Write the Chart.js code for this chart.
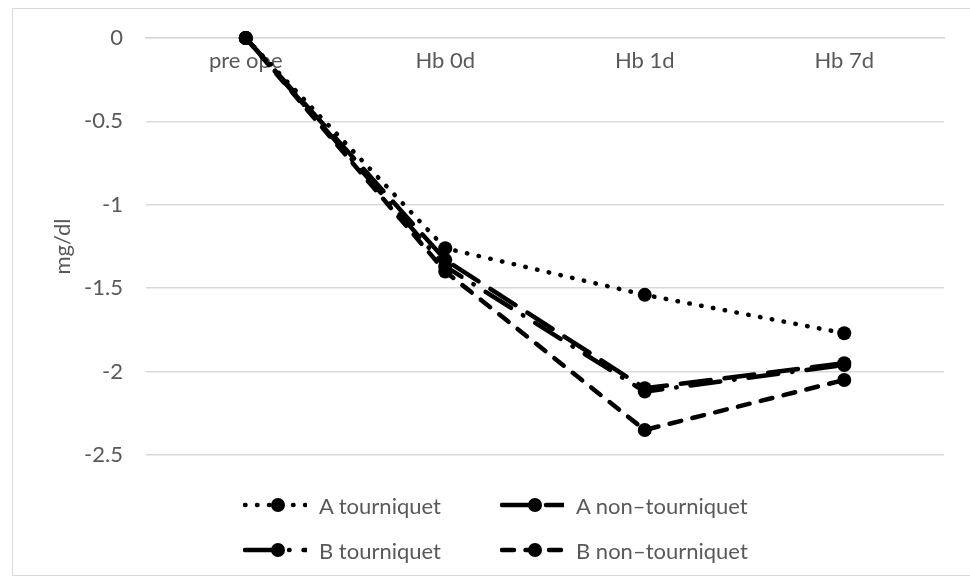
<!DOCTYPE html>
<html>
<head>
<meta charset="utf-8">
<script src="https://cdn.jsdelivr.net/npm/chart.js@4.4.1/dist/chart.umd.min.js"></script>
<style>
  html, body { margin: 0; padding: 0; background: #fff; }
  #wrap { position: relative; width: 970px; height: 583px; overflow: hidden; font-family: Lato, sans-serif; }
  #frame { position: absolute; left: 12px; top: 8px; width: 962px; height: 568px; border: 1px solid #d9d9d9; box-sizing: border-box; }
  #chart-box { position: absolute; left: 0; top: 0; width: 970px; height: 583px; }
  #legend { position: absolute; left: 243px; top: 490px; display: grid; grid-template-columns: 257px 257px; row-gap: 15px; }
  .legend-item { display: flex; align-items: center; height: 30px; color: #595959; font-size: 22px; white-space: nowrap; }
  .legend-item canvas { margin-right: 12px; }
</style>
</head>
<body>
<div id="wrap">
  <div id="frame"></div>
  <div id="chart-box"><canvas id="hb-chart"></canvas></div>
  <div id="legend"></div>
</div>
<script>
// values
const categories = ['pre ope', 'Hb 0d', 'Hb 1d', 'Hb 7d'];
const seriesLabels = ['A tourniquet', 'A non\u2013tourniquet', 'B tourniquet', 'B non\u2013tourniquet'];
const aTourniquet = [0, -1.26, -1.54, -1.77];
const aNonTourniquet = [0, -1.33, -2.10, -1.95];
const bTourniquet = [0, -1.37, -2.12, -1.96];
const bNonTourniquet = [0, -1.40, -2.35, -2.05];
const yMin = -2.5;
const yMax = 0;
const yStep = 0.5;

const TEXT = '#595959';
const GRID = '#d9d9d9';
const FONT = { family: 'Lato, sans-serif', size: 22 };

// line styles, one per series
const lineStyles = [
  { dash: [0.5, 11.5], cap: 'round' },       // round dots
  { dash: [30, 14], cap: 'round' },          // long dash
  { dash: [30, 14, 0.5, 14], cap: 'round' }, // long dash dot
  { dash: [12, 11.5], cap: 'round' }         // dash
];
const seriesData = [aTourniquet, aNonTourniquet, bTourniquet, bNonTourniquet];

const datasets = seriesData.map((data, i) => ({
  label: seriesLabels[i],
  data,
  clip: false,
  borderColor: '#000',
  borderWidth: 4.5,
  borderDash: lineStyles[i].dash,
  borderCapStyle: lineStyles[i].cap,
  tension: 0,
  pointRadius: 7,
  pointHoverRadius: 7,
  pointBackgroundColor: '#000',
  pointBorderWidth: 0
}));

const chart = new Chart(document.getElementById('hb-chart'), {
  type: 'line',
  data: { labels: categories, datasets },
  options: {
    responsive: true,
    maintainAspectRatio: false,
    animation: false,
    layout: { padding: { left: 46, top: 38, right: 26, bottom: 128 } },
    plugins: {
      legend: { display: false },
      tooltip: { enabled: false }
    },
    scales: {
      x: {
        position: { y: 0 },
        offset: true,
        grid: { display: false, drawTicks: false },
        border: { display: true, color: GRID, width: 1.5 },
        ticks: { color: TEXT, font: FONT, padding: 10, maxRotation: 0 }
      },
      y: {
        min: yMin,
        max: yMax,
        ticks: {
          stepSize: yStep,
          color: TEXT,
          font: FONT,
          padding: 23,
          callback: v => String(v)
        },
        grid: { color: GRID, lineWidth: 1.5, drawTicks: false },
        border: { display: false },
        title: { display: true, text: 'mg/dl', color: TEXT, font: FONT, padding: { top: 4, bottom: 0 } },
        afterFit: scale => { scale.width = 100; }
      }
    }
  }
});

// legend: line sample with marker, then the label
function buildLegend() {
  const box = document.getElementById('legend');
  chart.data.datasets.forEach((ds) => {
    const item = document.createElement('div');
    item.className = 'legend-item';
    const c = document.createElement('canvas');
    c.width = 64;
    c.height = 20;
    const ctx = c.getContext('2d');
    ctx.strokeStyle = '#000';
    ctx.lineWidth = ds.borderWidth;
    ctx.lineCap = ds.borderCapStyle;
    ctx.setLineDash(ds.borderDash);
    ctx.beginPath();
    ctx.moveTo(2, 10);
    ctx.lineTo(64, 10);
    ctx.stroke();
    ctx.setLineDash([]);
    ctx.fillStyle = '#000';
    ctx.beginPath();
    ctx.arc(35, 10, 7, 0, Math.PI * 2);
    ctx.fill();
    const span = document.createElement('span');
    span.textContent = ds.label;
    item.appendChild(c);
    item.appendChild(span);
    box.appendChild(item);
  });
}
buildLegend();
</script>
</body>
</html>
